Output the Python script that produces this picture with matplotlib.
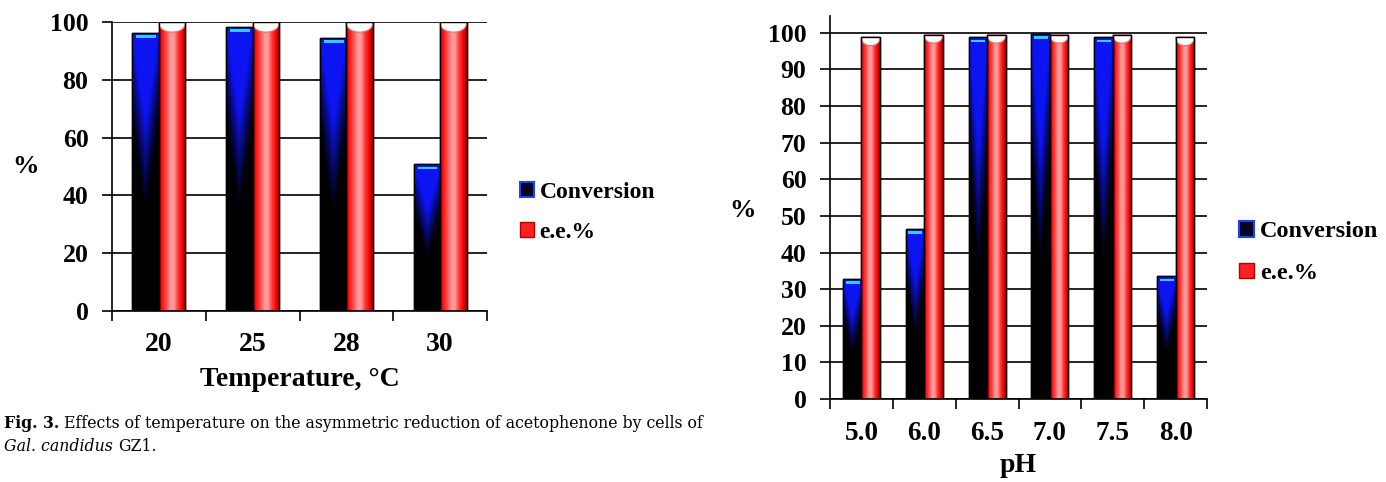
import numpy as np
import matplotlib.pyplot as plt
from matplotlib.patches import Patch, Polygon, Rectangle
from matplotlib.colors import LinearSegmentedColormap

# data
temp_labels = ['20', '25', '28', '30']
temp_conv = [96.2, 98.3, 94.5, 50.8]
temp_ee = [100, 100, 100, 100]

ph_labels = ['5.0', '6.0', '6.5', '7.0', '7.5', '8.0']
ph_conv = [32.8, 46.5, 98.8, 99.8, 98.8, 33.5]
ph_ee = [98.8, 99.5, 99.5, 99.5, 99.5, 98.8]

SERIF = 'Liberation Serif'
W, H = 1386, 482

red_cmap = LinearSegmentedColormap.from_list('cyl', [
    (0.00, (0.70, 0.00, 0.00)),
    (0.10, (1.00, 0.05, 0.05)),
    (0.30, (1.00, 0.35, 0.35)),
    (0.42, (1.00, 0.60, 0.60)),
    (0.56, (1.00, 0.60, 0.60)),
    (0.72, (1.00, 0.20, 0.20)),
    (0.88, (0.95, 0.00, 0.00)),
    (1.00, (0.60, 0.00, 0.00)),
])


def blue_bars(ax, x, vals, w, px):
    bars = ax.bar(x, vals, w, color='black', edgecolor='black', lw=1, zorder=2)
    ny, nx = 200, 40
    yy = np.linspace(0, 1, ny)[:, None]
    xx = np.linspace(-1, 1, nx)[None, :]
    edge = 0.33 + 0.32 * np.abs(xx)
    k = np.clip((yy - edge) / 0.35, 0, 1) ** 1.2
    rgb = np.zeros((ny, nx, 3))
    rgb[..., 0] = 0.05 * k
    rgb[..., 1] = 0.08 * k
    rgb[..., 2] = 0.95 * k
    for b in bars:
        x0, y0, bw, bh = b.get_x(), b.get_y(), b.get_width(), b.get_height()
        im = ax.imshow(rgb, extent=(x0, x0 + bw, y0, y0 + bh), origin='lower',
                       aspect='auto', zorder=2.1, interpolation='bilinear')
        im.set_clip_path(b)
        ax.add_patch(Rectangle((x0 + 0.15 * bw, y0 + bh - 5 * px), 0.75 * bw, 2.6 * px,
                               color='#33ccff', lw=0, zorder=2.2))
    ax.bar(x, vals, w, fill=False, edgecolor='black', lw=1, zorder=2.3)


def red_bars(ax, x, vals, w, depth):
    bars = ax.bar(x, vals, w, color='red', edgecolor='black', lw=1, zorder=2)
    grad = np.linspace(0, 1, 80)[None, :].repeat(4, axis=0)
    for b in bars:
        x0, y0, bw, bh = b.get_x(), b.get_y(), b.get_width(), b.get_height()
        im = ax.imshow(grad, cmap=red_cmap, extent=(x0, x0 + bw, y0, y0 + bh),
                       aspect='auto', zorder=2.1, interpolation='bilinear')
        im.set_clip_path(b)
        t = np.linspace(0, np.pi, 40)
        xs = x0 + bw * (0.5 + 0.5 * np.cos(t))
        ys = y0 + bh - depth * np.sin(t) ** 0.8
        ax.add_patch(Polygon(np.column_stack([xs, ys]), closed=True, facecolor='white',
                             edgecolor='#e07070', lw=0.8, zorder=2.2))
    ax.bar(x, vals, w, fill=False, edgecolor='black', lw=1, zorder=2.3)


def style(ax, labels, ymax, yticks, ysize, xsize, xpad, ypad):
    n = len(labels)
    ax.set_xlim(-0.5, n - 0.5)
    ax.set_ylim(0, ymax)
    ax.set_yticks(yticks)
    ax.set_xticks(np.arange(n))
    ax.set_xticklabels(labels)
    ax.set_xticks(np.arange(n + 1) - 0.5, minor=True)
    ax.tick_params(axis='x', which='major', length=0, pad=xpad, labelsize=xsize)
    ax.tick_params(axis='x', which='minor', length=7, width=1.2, direction='out')
    ax.tick_params(axis='y', length=7, width=1.2, direction='out', pad=ypad, labelsize=ysize)
    for lab in ax.get_xticklabels() + ax.get_yticklabels():
        lab.set_fontfamily(SERIF)
        lab.set_fontweight('bold')
    ax.grid(axis='y', color='black', lw=1.2, zorder=1)
    ax.set_axisbelow(True)
    ax.spines['top'].set_visible(False)
    ax.spines['right'].set_visible(False)
    ax.spines['left'].set_linewidth(1.2)
    ax.spines['bottom'].set_linewidth(1.2)


def legend(ax, size, anchor, spacing):
    handles = [Patch(facecolor='#050520', edgecolor='#1a40ff', lw=1.5, label='Conversion'),
               Patch(facecolor='#ff2020', edgecolor='#b00000', lw=1.0, label='e.e.%')]
    ax.legend(handles=handles, loc='center left', bbox_to_anchor=anchor, frameon=False,
              prop={'family': SERIF, 'weight': 'bold', 'size': size},
              handlelength=0.6, handleheight=0.6, handletextpad=0.25,
              labelspacing=spacing, borderaxespad=0, borderpad=0)


fig = plt.figure(figsize=(W / 100, H / 100), dpi=100)

# temperature chart
ax1 = fig.add_axes([112 / W, 1 - 311 / H, 375 / W, 289 / H])
x1 = np.arange(len(temp_labels))
bw1 = 0.283
blue_bars(ax1, x1 - bw1 / 2, temp_conv, bw1, 100 / 289)
red_bars(ax1, x1 + bw1 / 2, temp_ee, bw1, 3.5)
style(ax1, temp_labels, 100, range(0, 101, 20), 18.5, 20, 15, 10)
ax1.set_ylabel('%', rotation=0, fontfamily=SERIF, fontweight='bold', fontsize=19,
               ha='center', va='center')
ax1.yaxis.set_label_coords(-0.232, 0.5)
ax1.set_xlabel('Temperature, \u00b0C', fontfamily=SERIF, fontweight='bold', fontsize=20)
ax1.xaxis.set_label_coords(0.5, -0.195)
legend(ax1, 17, (1.087, 0.342), 0.8)

# pH chart
ax2 = fig.add_axes([830 / W, 1 - 399 / H, 377 / W, 383 / H])
x2 = np.arange(len(ph_labels))
bw2 = 0.295
blue_bars(ax2, x2 - bw2 / 2, ph_conv, bw2, 104.6 / 383)
red_bars(ax2, x2 + bw2 / 2, ph_ee, bw2, 2.3)
style(ax2, ph_labels, 104.6, range(0, 101, 10), 18.5, 19.5, 16, 10)
ax2.set_ylabel('%', rotation=0, fontfamily=SERIF, fontweight='bold', fontsize=19,
               ha='center', va='center')
ax2.yaxis.set_label_coords(-0.233, 0.493)
ax2.set_xlabel('pH', fontfamily=SERIF, fontweight='bold', fontsize=20)
ax2.xaxis.set_label_coords(0.5, -0.14)
legend(ax2, 17.5, (1.085, 0.382), 0.85)

# caption
fig.canvas.draw()
r = fig.canvas.get_renderer()
cap = dict(fontfamily='DejaVu Serif', fontsize=11.3, va='baseline')
t1 = fig.text(4 / W, 1 - 428 / H, 'Fig. 3.', fontweight='bold', **cap)
e1 = t1.get_window_extent(r)
fig.text(e1.x1 / W + 5 / W, 1 - 428 / H,
         'Effects of temperature on the asymmetric reduction of acetophenone by cells of', **cap)
t2 = fig.text(4 / W, 1 - 451 / H, 'Gal. candidus', fontstyle='italic', **cap)
e2 = t2.get_window_extent(r)
fig.text(e2.x1 / W + 5 / W, 1 - 451 / H, 'GZ1.', **cap)

fig.savefig('out.png', dpi=100)
